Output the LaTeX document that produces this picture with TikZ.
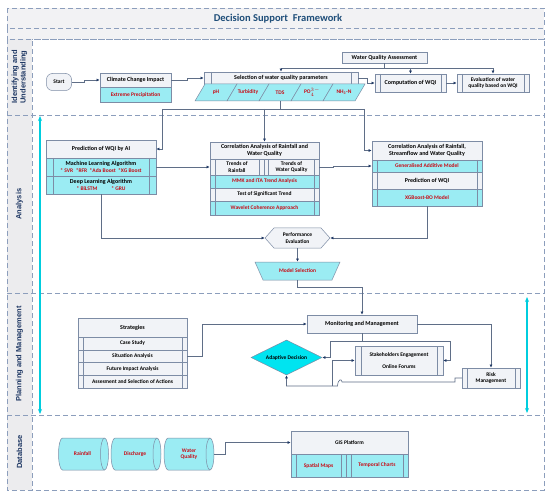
\documentclass[tikz,border=0pt]{standalone}
\usepackage{fontspec}
\setmainfont{Carlito}
\newfontfamily\lanefont{Liberation Sans}
\usetikzlibrary{arrows.meta,shapes.geometric,calc}
\definecolor{bordc}{RGB}{125,140,165}
\definecolor{cyfill}{RGB}{155,236,243}
\definecolor{lightfill}{RGB}{241,243,247}
\definecolor{redc}{RGB}{200,10,20}
\definecolor{linec}{RGB}{95,110,135}
\definecolor{navyc}{RGB}{31,56,100}
\definecolor{diacol}{RGB}{0,228,240}
\definecolor{cyarrc}{RGB}{0,205,222}
\definecolor{dashc}{RGB}{140,158,188}
\definecolor{colfill}{RGB}{236,236,238}
\definecolor{bandfill}{RGB}{242,242,244}
\definecolor{titlec}{RGB}{31,78,121}
\definecolor{lanec}{RGB}{31,56,100}
\newcommand\bxfont{\fontsize{6}{7}\selectfont\bfseries}
\newcommand\smfont{\fontsize{5.5}{6.3}\selectfont\bfseries}
\begin{document}
\begin{tikzpicture}[x=1pt,y=-1pt,
  tb/.style={draw=bordc, line width=0.5pt, inner sep=0pt, align=center, font=\bxfont, text=black},
  lt/.style={tb, fill=lightfill},
  cy/.style={tb, fill=cyfill, text=redc, font=\smfont},
  bars/.style={path picture={\draw[bordc, line width=0.5pt]
     ([xshift=#1]path picture bounding box.north west) -- ([xshift=#1]path picture bounding box.south west)
     ([xshift=-#1]path picture bounding box.north east) -- ([xshift=-#1]path picture bounding box.south east);}},
  bars/.default=5pt,
  ln/.style={draw=linec, line width=0.6pt},
  con/.style={ln, -{Latex[length=3.2pt,width=3pt,color=navyc]}},
  frame/.style={draw=dashc, line width=0.6pt, dash pattern=on 5pt off 3pt},
  lanelab/.style={font=\lanefont\fontsize{7.5}{8.5}\selectfont\bfseries, text=lanec, align=center, rotate=90},
  cyltxt/.style={minimum width=50pt, minimum height=32pt, inner sep=0pt, align=center, font=\smfont, text=redc},
  cylshape/.style={draw=bordc, line width=0.5pt, fill=cyfill},
  cyarr/.style={draw=cyarrc, line width=1.2pt, {Stealth[length=5pt,width=4pt]}-{Stealth[length=5pt,width=4pt]}}
]
\useasboundingbox (0,0) rectangle (550,495);
\fill[white] (0,0) rectangle (550,495);

% frame and lanes
\filldraw[frame, fill=bandfill] (7,8) rectangle (544,28);
\filldraw[frame, fill=bandfill] (7,28) rectangle (544,39);
\filldraw[frame, fill=colfill] (7,39) rectangle (32,490);
\draw[frame] (7,39) rectangle (544,490);
\draw[frame] (7,115) -- (544,115);
\draw[frame] (7,293) -- (544,293);
\draw[frame] (7,415) -- (544,415);

\node[font=\fontsize{10.5}{12}\selectfont\bfseries, text=titlec] (title) at (278,18.5) {Decision Support\ \ Framework};

\node[lanelab] (lab1) at (19.5,77) {Identifying and\\Understanding};
\node[lanelab] (lab2) at (19.5,204) {Analysis};
\node[lanelab] (lab3) at (19.5,354) {Planning and Management};
\node[lanelab] (lab4) at (19.5,452) {Database};

\coordinate (ca1) at (40,116); \coordinate (ca2) at (40,414);
\draw[cyarr] (ca1) -- (ca2);
\coordinate (cb1) at (527,297); \coordinate (cb2) at (527,413);
\draw[cyarr] (cb1) -- (cb2);

% ---------- lane 1
\node[lt, rounded corners=6pt, minimum width=25pt, minimum height=17pt, font=\smfont] (start) at (59,82) {Start};
\node[lt, minimum width=71pt, minimum height=14pt] (clim) at (135.5,80) {Climate Change Impact};
\node[cy, minimum width=71pt, minimum height=15pt] (extp) at (135.5,94.5) {Extreme Precipitation};
\node[lt, bars=7pt, minimum width=154pt, minimum height=12pt] (sel) at (281,78) {Selection of water quality parameters};
\foreach \x in {205,237,269,301,333}
  \draw[draw=bordc, line width=0.5pt, fill=cyfill] (\x,84) -- (\x+32,84) -- (\x+22,101) -- (\x-10,101) -- cycle;
\node[text=redc, font=\smfont] (ph) at (216,92.5) {pH};
\node[text=redc, font=\smfont] (turb) at (248,92.5) {Turbidity};
\node[text=redc, font=\smfont] (tds) at (280,92.5) {TDS};
\node[text=redc, font=\smfont] (po) at (312,92.5) {PO$_{4}^{3-}$};
\node[text=redc, font=\smfont] (nh) at (344,92.5) {NH\textsubscript{3}-N};
\node[lt, minimum width=85pt, minimum height=11pt] (wqa) at (384.5,57.5) {Water Quality Assessment};
\node[lt, bars=5pt, minimum width=71pt, minimum height=18pt] (comp) at (410.5,83) {Computation of WQI};
\node[lt, bars=5pt, minimum width=72pt, minimum height=18pt, font=\smfont] (eval) at (493,83) {Evaluation of water\\quality based on WQI};

\draw[con] (start.east) -- ++(13,0) |- (clim.west);
\draw[con] (clim.east) -- ++(16,0) |- (sel.west);
\coordinate (j1) at (384.5,68);
\draw[ln] (wqa.south) -- (j1);
\draw[con] (j1) -| (sel.north);
\draw[con] (j1) -| (comp.north);
\draw[con] (j1) -| (eval.north);
\draw[con] (sel.east) -- ++(9,0) |- (comp.west);
\draw[con] (comp.east) -- (eval.west);

\coordinate (tdsb) at (280,101);
\coordinate (dC) at (280,109);
\coordinate (dL) at (162,109);
\coordinate (dM) at (264.5,109);
\coordinate (dR) at (364,109);
\draw[ln] (tdsb) -- (dC);
\draw[ln] (dL) -- (dR);

% ---------- lane 2
\node[lt, minimum width=110pt, minimum height=18pt] (pai) at (101,149) {Prediction of WQI by AI};
\node[tb, fill=cyfill, bars=7pt, minimum width=110pt, minimum height=18pt] (ml) at (101,167) {Machine Learning Algorithm\\{\smfont\textcolor{redc}{* SVR~~*RFR~~*Ada Boost~~*XG Boost}}};
\node[tb, fill=cyfill, bars=7pt, minimum width=110pt, minimum height=18pt] (dl) at (101,185) {Deep Learning Algorithm\\{\smfont\textcolor{redc}{* BiLSTM\hspace{14pt}* GRU}}};

\node[lt, minimum width=109pt, minimum height=17pt] (c1t) at (264.5,150.5) {Correlation Analysis of Rainfall and\\Water Quality};
\node[lt, bars=5pt, minimum width=54pt, minimum height=16pt, font=\smfont] (c1r) at (237,167) {Trends of\\Rainfall};
\node[lt, bars=4.5pt, minimum width=55pt, minimum height=16pt, font=\smfont] (c1w) at (291.5,167) {Trends of\\Water Quality};
\node[cy, bars=5pt, minimum width=109pt, minimum height=13pt] (mmk) at (264.5,181.5) {MMK and ITA Trend Analysis};
\node[lt, bars=5pt, minimum width=109pt, minimum height=13pt, font=\smfont] (tst) at (264.5,194.5) {Test of Significant Trend};
\node[cy, bars=5pt, minimum width=109pt, minimum height=14pt] (wav) at (264.5,208) {Wavelet Coherence Approach};

\node[lt, minimum width=110pt, minimum height=19pt] (c2t) at (427,150.5) {Correlation Analysis of Rainfall,\\Streamflow and Water Quality};
\node[cy, bars=5pt, minimum width=110pt, minimum height=12pt] (gam) at (427,166) {Generalised Additive Model};
\node[lt, bars=5pt, minimum width=110pt, minimum height=17pt] (pwq) at (427,180.5) {Prediction of WQI};
\node[cy, bars=5pt, minimum width=110pt, minimum height=17pt] (xgb) at (427,197.5) {XGBoost-BO Model};

\filldraw[draw=bordc, line width=0.5pt, fill=lightfill] (265,238) -- (274,228) -- (321,228) -- (330,238) -- (321,248) -- (274,248) -- cycle;
\node[minimum width=65pt, minimum height=20pt, inner sep=0pt, align=center, font=\smfont] (perf) at (297.5,238) {Performance\\Evaluation};
\filldraw[draw=bordc, line width=0.5pt, fill=cyfill] (255,262) -- (340,262) -- (332,280) -- (263,280) -- cycle;
\node[minimum width=77pt, minimum height=18pt, inner sep=0pt, font=\smfont, text=redc] (ms) at (297.5,271) {Model Selection};

\draw[con] (dL) |- (pai.east);
\draw[con] (dM) -- (c1t.north);
\draw[con] (dR) |- (c2t.west);
\draw[con] (ml.east) -- (c1r.west);
\draw[con] (c1w.east) -- ++(14,0) |- (gam.west);
\draw[con] (dl.south) |- (perf.west);
\draw[con] (xgb.south) |- (perf.east);
\draw[con] (perf.south) -- (ms.north);

% ---------- lane 3
\node[lt, minimum width=109pt, minimum height=19pt] (str) at (132.5,327.5) {Strategies};
\node[lt, bars=5pt, minimum width=109pt, minimum height=12.75pt, font=\smfont] (cs) at (132.5,343.375) {Case Study};
\node[lt, bars=5pt, minimum width=109pt, minimum height=12.75pt, font=\smfont] (sa) at (132.5,356.125) {Situation Analysis};
\node[lt, bars=5pt, minimum width=109pt, minimum height=12.75pt, font=\smfont] (fi) at (132.5,368.875) {Future Impact Analysis};
\node[lt, bars=5pt, minimum width=109pt, minimum height=12.75pt, font=\smfont] (asel) at (132.5,381.625) {Assesment and Selection of Actions};

\node[lt, minimum width=110pt, minimum height=18pt] (mon) at (362,324) {Monitoring and Management};
\node[diamond, aspect=2, draw=bordc, line width=0.5pt, fill=diacol, minimum width=71pt, minimum height=35pt, inner sep=0pt, font=\smfont] (dia) at (286.5,357.5) {Adaptive Decision};
\node[lt, bars=6pt, minimum width=88pt, minimum height=29pt, font=\smfont] (stk) at (399,360.5) {Stakeholders Engagement\\[6pt]Online Forums};
\node[lt, bars=5pt, minimum width=58pt, minimum height=20pt, font=\smfont] (risk) at (491,378) {Risk\\Management};

\draw[con] (ms.south) -- ++(0,7) -| (mon.north);
\draw[con] (sa.east) -- ++(15,0) |- (mon.west);
\coordinate (j2) at (362,341);
\draw[ln] (mon.south) -- (j2);
\draw[con] (j2) -| (330,357.5) -- (dia.east);
\draw[con] (j2) -| (450,360.5) -- (stk.east);
\draw[con] (mon.east) -| (risk.north);
\draw[con] (risk.west) -- (455,378) -- (455,382) -- (342,382) .. controls (342,378.5) and (338,378.5) .. (337.5,386) -- (286.5,386) -- (dia.south);
\coordinate (yb) at (332,386);
\draw[con] (yb) |- (stk.west);

% ---------- lane 4
\foreach \x in {58.5,111,164} {
  \filldraw[cylshape] (\x+4,438) arc[start angle=90, end angle=270, x radius=4pt, y radius=16pt]
     -- (\x+46,470) arc[start angle=270, end angle=450, x radius=4pt, y radius=16pt] -- cycle;
  \draw[draw=bordc, line width=0.5pt] (\x+46,438) arc[start angle=90, end angle=270, x radius=4pt, y radius=16pt];
}
\node[cyltxt] (rain) at (82.5,454) {Rainfall};
\node[cyltxt] (dis) at (135,454) {Discharge};
\node[cyltxt] (wq) at (189,454) {Water\\Quality};
\node[lt, minimum width=117pt, minimum height=23pt, font=\smfont] (gis) at (349.5,442.5) {GIS Platform};
\node[cy, bars=5pt, minimum width=55pt, minimum height=23pt] (spm) at (318.5,465.5) {Spatial Maps};
\node[cy, bars=5pt, minimum width=62pt, minimum height=23pt] (tmc) at (377,465.5) {Temporal Charts};
\draw[con] (wq.east) -- ++(11,0) |- (gis.west);
\end{tikzpicture}
\end{document}
